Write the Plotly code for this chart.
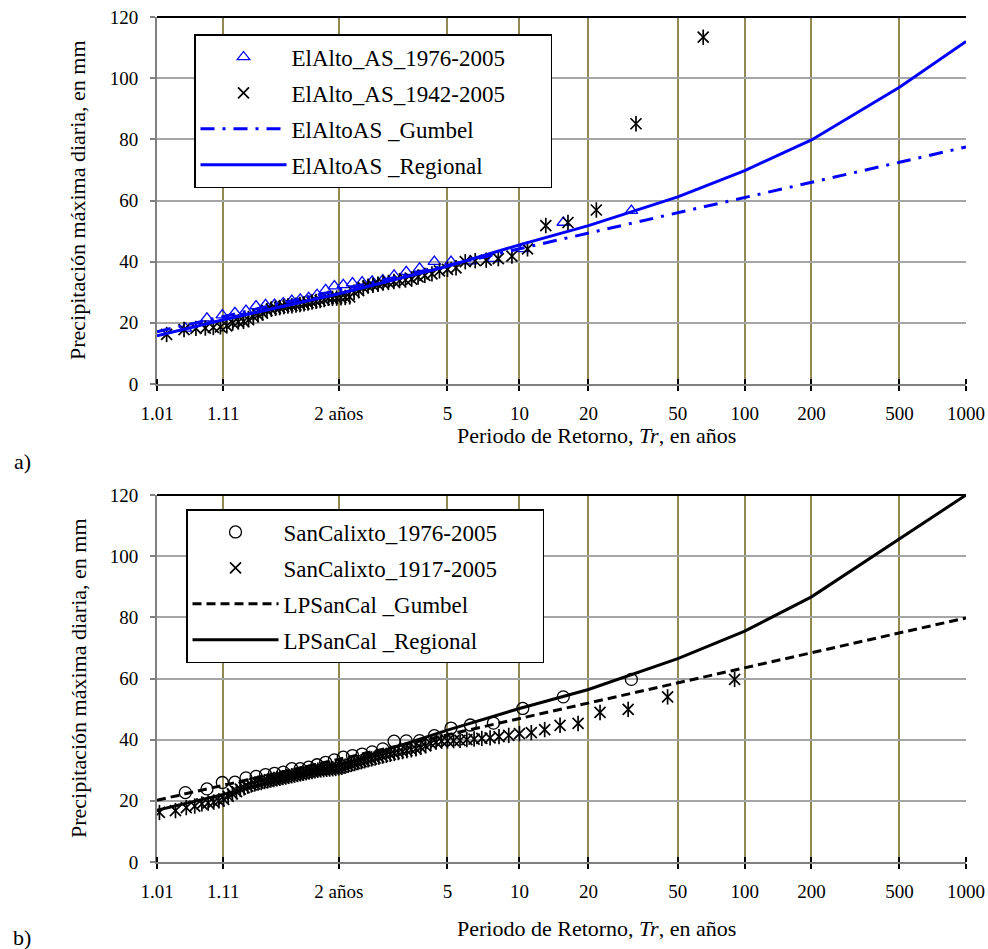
import numpy as np
import plotly.graph_objects as go

# ---------------- data ----------------
tick_T = [1.01, 1.11, 2, 5, 10, 20, 50, 100, 200, 500, 1000]
tick_labels = ["1.01", "1.11", "2 años", "5", "10", "20", "50", "100", "200", "500", "1000"]
y_ticks = [0, 20, 40, 60, 80, 100, 120]

curve_T = [1.01, 1.11, 2, 5, 10, 20, 50, 100, 200, 500, 1000]
elalto_gumbel = [17.1, 22.0, 30.7, 38.8, 44.2, 49.3, 56.0, 61.0, 66.0, 72.5, 77.5]
elalto_regional = [15.8, 21.0, 29.5, 38.5, 45.5, 51.8, 61.2, 69.8, 79.8, 97.0, 112.0]
sancal_gumbel = [20.2, 25.1, 33.6, 41.6, 46.9, 52.0, 58.6, 63.5, 68.4, 74.9, 79.8]
sancal_regional = [16.9, 22.1, 31.6, 43.1, 50.2, 56.4, 66.5, 75.5, 86.7, 105.5, 120.0]

# observed annual maxima, sorted ascending (mm)
elalto_1976_2005 = [18.2, 21.5, 22.5, 23.3, 24.0, 25.5, 25.9, 26.0, 26.5, 27.3,
                    27.7, 28.2, 29.2, 30.8, 32.0, 32.4, 33.0, 33.3, 33.6, 34.0,
                    35.5, 36.7, 37.8, 40.0, 40.0, 40.2, 41.0, 44.2, 52.8, 56.7]
elalto_1942_2005 = [16.2, 17.8, 18.2, 18.3, 18.5, 18.7, 19.0, 20.0, 20.3, 20.5,
                    21.0, 22.0, 22.6, 23.2, 24.0, 24.5, 24.8, 25.0, 25.3, 25.5,
                    25.6, 25.8, 26.0, 26.2, 26.5, 26.8, 27.0, 27.3, 27.6, 28.0,
                    28.0, 28.1, 28.2, 28.3, 28.5, 30.0, 30.5, 31.5, 32.0, 32.3,
                    32.6, 33.0, 33.2, 33.5, 33.8, 34.0, 34.3, 35.0, 35.5, 36.0,
                    37.0, 37.5, 38.0, 40.0, 40.3, 40.5, 41.0, 41.8, 44.2, 51.8,
                    52.8, 56.9, 85.1, 113.4]
sancal_1976_2005 = [22.7, 23.9, 26.0, 26.1, 27.5, 28.0, 28.6, 29.0, 29.4, 30.5,
                    30.5, 31.0, 31.8, 32.6, 33.4, 34.3, 34.8, 35.3, 36.0, 37.0,
                    39.5, 39.6, 39.7, 41.3, 43.8, 44.8, 45.4, 50.2, 54.0, 59.7]
sancal_1917_2005 = [16.2, 16.8, 17.8, 18.3, 19.0, 19.3, 19.6, 20.0, 20.5, 21.5,
                    22.3, 23.0, 23.8, 24.3, 24.8, 25.2, 25.5, 25.8, 26.0, 26.3,
                    26.5, 26.8, 27.0, 27.2, 27.4, 27.6, 27.8, 28.0, 28.2, 28.4,
                    28.6, 28.8, 29.0, 29.2, 29.4, 29.6, 29.8, 30.0, 30.1, 30.2,
                    30.3, 30.4, 30.5, 30.6, 30.8, 31.0, 31.3, 31.6, 31.9, 32.2,
                    32.5, 32.8, 33.1, 33.4, 33.7, 34.0, 34.3, 34.6, 34.9, 35.2,
                    35.5, 35.8, 36.1, 36.4, 36.7, 37.0, 37.5, 38.0, 38.8, 39.2,
                    39.5, 39.6, 39.7, 39.8, 40.0, 40.2, 40.4, 40.6, 41.0, 41.4,
                    42.0, 42.3, 43.3, 44.7, 45.3, 48.9, 49.9, 54.0, 59.7]


def gumbel_variate(T):
    T = np.asarray(T, dtype=float)
    return -np.log(-np.log(1.0 - 1.0 / T))


def weibull_T(sorted_values):
    n = len(sorted_values)
    m = np.arange(n, 0, -1)
    return (n + 1) / m


FONT = "Liberation Serif, Times New Roman, serif"
BLUE = "#0000FF"
OLIVE = "#938953"
GRAY = "#A6A6A6"
PAD = "\u00a0" * 7

fig = go.Figure()

def add_star(T, v, legend, name, xa, ya, group):
    fig.add_trace(go.Scatter(x=gumbel_variate(T), y=v, mode="markers", name=name,
                             xaxis=xa, yaxis=ya, legend=legend, legendgroup=group,
                             marker=dict(symbol="x-thin-open", size=11, color="black",
                                         line=dict(color="black", width=1.7))))
    fig.add_trace(go.Scatter(x=gumbel_variate(T), y=v, mode="markers", name=name,
                             xaxis=xa, yaxis=ya, legend=legend, legendgroup=group,
                             showlegend=False,
                             marker=dict(symbol="line-ns-open", size=11, color="black",
                                         line=dict(color="black", width=1.7))))

# ---------- panel a ----------
fig.add_trace(go.Scatter(x=gumbel_variate(weibull_T(elalto_1976_2005)), y=elalto_1976_2005,
                         mode="markers", name="ElAlto_AS_1976-2005" + PAD, xaxis="x", yaxis="y",
                         legend="legend", legendgroup="a1",
                         marker=dict(symbol="triangle-up-open", size=11, color=BLUE,
                                     line=dict(color=BLUE, width=1.3))))
add_star(weibull_T(elalto_1942_2005), elalto_1942_2005, "legend", "ElAlto_AS_1942-2005", "x", "y", "a2")
fig.add_trace(go.Scatter(x=gumbel_variate(curve_T), y=elalto_gumbel, mode="lines",
                         name="ElAltoAS _Gumbel", xaxis="x", yaxis="y", legend="legend",
                         legendgroup="a3",
                         line=dict(color=BLUE, width=3, dash="14px,8px,3px,8px")))
fig.add_trace(go.Scatter(x=gumbel_variate(curve_T), y=elalto_regional, mode="lines",
                         name="ElAltoAS _Regional", xaxis="x", yaxis="y", legend="legend",
                         legendgroup="a4",
                         line=dict(color=BLUE, width=3)))

# ---------- panel b ----------
fig.add_trace(go.Scatter(x=gumbel_variate(weibull_T(sancal_1976_2005)), y=sancal_1976_2005,
                         mode="markers", name="SanCalixto_1976-2005" + PAD, xaxis="x2", yaxis="y2",
                         legend="legend2", legendgroup="b1",
                         marker=dict(symbol="circle-open", size=12, color="black",
                                     line=dict(color="black", width=1.3))))
add_star(weibull_T(sancal_1917_2005), sancal_1917_2005, "legend2", "SanCalixto_1917-2005", "x2", "y2", "b2")
fig.add_trace(go.Scatter(x=gumbel_variate(curve_T), y=sancal_gumbel, mode="lines",
                         name="LPSanCal _Gumbel", xaxis="x2", yaxis="y2", legend="legend2",
                         legendgroup="b3",
                         line=dict(color="black", width=3, dash="9px,5px")))
fig.add_trace(go.Scatter(x=gumbel_variate(curve_T), y=sancal_regional, mode="lines",
                         name="LPSanCal _Regional", xaxis="x2", yaxis="y2", legend="legend2",
                         legendgroup="b4",
                         line=dict(color="black", width=3)))

W, H = 988, 949

def px_x(p):
    return p / W

def px_y(p):
    return 1 - p / H

xdom = [px_x(157), px_x(966)]
ya_dom = [px_y(384), px_y(17)]
yb_dom = [px_y(862), px_y(495)]
xr = [float(gumbel_variate(tick_T[0])), float(gumbel_variate(tick_T[-1]))]
tv = gumbel_variate(tick_T)

def xaxis_cfg(anchor):
    return dict(domain=xdom, anchor=anchor, range=xr, tickmode="array", automargin=False,
                tickvals=tv, ticktext=tick_labels, showgrid=True, gridcolor=OLIVE,
                gridwidth=2, zeroline=False, showline=True, linecolor="#808080",
                linewidth=2, ticks="outside", ticklen=5, tickwidth=1.5,
                tickcolor="black", ticklabelstandoff=6, ticklabeloverflow="allow",
                tickfont=dict(family=FONT, size=19, color="black"),
                minor=dict(tickmode="array", tickvals=tv + 1e-6, ticks="inside",
                           ticklen=5, tickwidth=1.5, tickcolor="black", showgrid=False))

def yaxis_cfg(dom, anchor):
    return dict(domain=dom, anchor=anchor, range=[0, 120], tickmode="array", automargin=False,
                tickvals=y_ticks, showgrid=True, gridcolor=GRAY, gridwidth=1.5,
                zeroline=False, showline=True, linecolor="#808080", linewidth=2,
                ticks="outside", ticklen=5, tickwidth=1.5, tickcolor="#808080",
                ticklabelstandoff=8, ticklabeloverflow="allow",
                tickfont=dict(family=FONT, size=19, color="black"))

leg_common = dict(xanchor="left", yanchor="top", bgcolor="white", bordercolor="black",
                  borderwidth=1.5, traceorder="grouped", tracegroupgap=3, itemwidth=86,
                  font=dict(family=FONT, size=23, color="black"))

fig.update_layout(
    width=W, height=H, margin=dict(l=0, r=0, t=0, b=0, autoexpand=False),
    paper_bgcolor="white", plot_bgcolor="white",
    xaxis=xaxis_cfg("y"), yaxis=yaxis_cfg(ya_dom, "x"),
    xaxis2=xaxis_cfg("y2"), yaxis2=yaxis_cfg(yb_dom, "x2"),
    legend=dict(x=px_x(194), y=px_y(34), **leg_common),
    legend2=dict(x=px_x(186), y=px_y(509), **leg_common),
    font=dict(family=FONT, color="black"),
)

# frame top border
for xr_, yr_ in [("x domain", "y domain"), ("x2 domain", "y2 domain")]:
    fig.add_shape(type="line", xref=xr_, yref=yr_, x0=0, x1=1, y0=1, y1=1,
                  line=dict(color="black", width=2))

ytitle = "Precipitación máxima diaria, en mm"
xtitle = "Periodo de Retorno, <i>Tr</i>, en años"
ann = [
    dict(text=ytitle, x=78, y=200, textangle=-90, size=22),
    dict(text=ytitle, x=78, y=678, textangle=-90, size=22),
    dict(text=xtitle, x=596, y=436, textangle=0, size=22),
    dict(text=xtitle, x=596, y=928, textangle=0, size=22),
    dict(text="a)", x=22, y=461, textangle=0, size=22),
    dict(text="b)", x=22, y=937, textangle=0, size=22),
]
for a in ann:
    fig.add_annotation(text=a["text"], x=px_x(a["x"]), y=px_y(a["y"]), xref="paper", yref="paper",
                       xanchor="center", yanchor="middle", textangle=a["textangle"],
                       showarrow=False, font=dict(family=FONT, size=a["size"], color="black"))

fig.write_html("out.html", config={"displayModeBar": False},
               post_script="document.body.style.margin='0';document.body.style.overflow='hidden';")
